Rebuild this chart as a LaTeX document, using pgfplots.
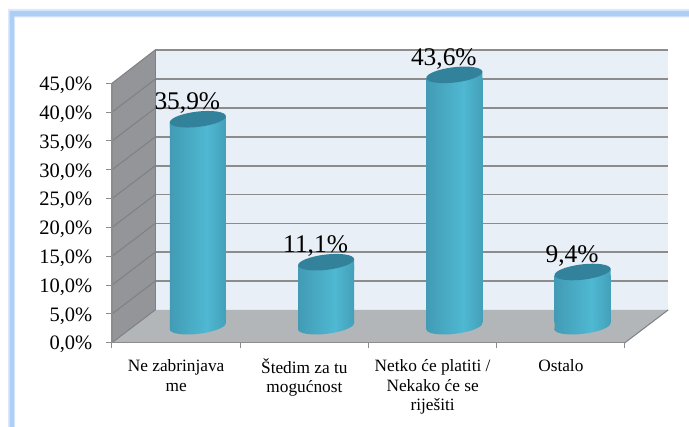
\documentclass[border=0pt]{standalone}
\usepackage{pgfplots}
\usepackage{pgfplotstable}
\pgfplotsset{compat=1.18}
\usepackage{fontspec}
\setmainfont{Liberation Serif}
\definecolor{frameblue}{HTML}{AECFF5}
\definecolor{frameblue2}{HTML}{DCE9FA}
\definecolor{backwall}{HTML}{E8EFF6}
\definecolor{floorc}{HTML}{B2B6B9}
\definecolor{sidewall}{HTML}{939598}
\definecolor{gridc}{HTML}{8C8C8C}
\definecolor{sidegrid}{HTML}{7E8083}
\definecolor{cyltopc}{HTML}{33829B}
\definecolor{cA}{HTML}{2C6F85}
\definecolor{cB}{HTML}{3D90A9}
\definecolor{cC}{HTML}{4FB8D2}
\definecolor{cD}{HTML}{2A6478}
\pgfdeclarehorizontalshading{cyl}{100bp}{color(0bp)=(cA); color(12bp)=(cB); color(58bp)=(cC); color(86bp)=(cB); color(100bp)=(cD)}
\pgfdeclareplotmark{cyltop}{%
  \pgfpathmoveto{\pgfqpoint{-28pt}{-3.3pt}}%
  \pgfpathlineto{\pgfqpoint{28pt}{3.3pt}}%
  \pgfpathlineto{\pgfqpoint{28pt}{-8pt}}%
  \pgfpathlineto{\pgfqpoint{-28pt}{-8pt}}%
  \pgfpathclose
  \pgfshadepath{cyl}{0}\pgfusepath{discard}%
  \pgfsetfillcolor{cyltopc}%
  \pgfpathellipse{\pgfpointorigin}{\pgfqpoint{28pt}{3.3pt}}{\pgfqpoint{-0.9pt}{7.6pt}}%
  \pgfusepath{fill}}
\pgfdeclareplotmark{cylbase}{%
  \pgfpathmoveto{\pgfqpoint{-28pt}{-3.3pt}}%
  \pgfpathlineto{\pgfqpoint{28pt}{3.3pt}}%
  \pgfpathlineto{\pgfqpoint{28pt}{5pt}}%
  \pgfpathlineto{\pgfqpoint{-28pt}{5pt}}%
  \pgfpathclose
  \pgfshadepath{cyl}{0}\pgfusepath{discard}%
  \pgfpathellipse{\pgfpointorigin}{\pgfqpoint{28pt}{3.3pt}}{\pgfqpoint{-0.9pt}{7.6pt}}%
  \pgfshadepath{cyl}{0}\pgfusepath{discard}}
\pgfplotstableread{
x v
0.5 35.9
1.5 11.1
2.5 43.6
3.5 9.4
}\cyldata
\pgfplotsset{common/.style={
  width=513pt,height=259.4pt,scale only axis,anchor=south west,
  xmin=0,xmax=4,ymin=0,ymax=45,clip=false},
  body/.style={ybar,bar width=56pt,draw=none,shading=cyl,shade}}
\newcommand{\st}{\rule{0pt}{13pt}}
\begin{document}
\begin{tikzpicture}[x=1pt,y=1pt]
\useasboundingbox (0,0) rectangle (689,427);
\fill[white] (0,0) rectangle (689,427);
\fill[frameblue2] (8,0) -- (8,418) -- (689,418) -- (689,409.5) -- (15,409.5) -- (15,0) -- cycle;
\fill[frameblue] (9.5,0) -- (9.5,416) -- (689,416) -- (689,410.5) -- (14,410.5) -- (14,0) -- cycle;
% walls, floor and value axis
\begin{axis}[common,at={(112pt,84.3pt)},
  axis on top,
  axis x line*=bottom,axis y line*=left,
  axis line style={gridc,line width=1.1pt,-},
  tick style={gridc,line width=1pt},
  tick align=outside,
  major tick length=5.5pt,
  minor tick length=5.5pt,
  ytick={0,5,...,45},
  /pgf/number format/assume math mode=true,
  /pgf/number format/.cd,fixed,fixed zerofill,precision=1,use comma,/tikz/.cd,
  yticklabel={\pgfmathprintnumber{\tick}\%},
  yticklabel style={font=\fontsize{20.5}{24}\selectfont,inner sep=0pt,xshift=-14pt,yshift=-2pt},
  xtick={0.5,1.5,2.5,3.5},
  major x tick style={draw=none},
  minor xtick={0,1,2,3,4},
  minor x tick style={gridc,line width=1pt},
  xticklabels={{\st Ne zabrinjava\\me},{\st Štedim za tu\\mogućnost},{\st Netko će platiti /\\Nekako će se\\riješiti},{\st Ostalo}},
  xticklabel style={font=\fontsize{17.3}{19.7}\selectfont,align=center,inner sep=0pt,anchor=north,yshift=-10pt},
  unbounded coords=jump]
\addplot[fill=backwall,draw=none] coordinates {(0.3376,5.7) (4.3376,5.7) (4.3376,50.8) (0.3376,50.8)} --cycle;
\addplot[fill=sidewall,draw=none] coordinates {(0,0) (0.3376,5.7) (0.3376,50.8) (0,45)} --cycle;
\addplot[fill=floorc,draw=none] coordinates {(0,0) (4,0) (4.3376,5.7) (0.3376,5.7)} --cycle;
\addplot[gridc,line width=1.6pt] coordinates {
 (0.3376,10.7) (4.3376,10.7) (nan,nan)
 (0.3376,15.7) (4.3376,15.7) (nan,nan)
 (0.3376,20.7) (4.3376,20.7) (nan,nan)
 (0.3376,25.7) (4.3376,25.7) (nan,nan)
 (0.3376,30.7) (4.3376,30.7) (nan,nan)
 (0.3376,35.7) (4.3376,35.7) (nan,nan)
 (0.3376,40.7) (4.3376,40.7) (nan,nan)
 (0.3376,45.7) (4.3376,45.7) (nan,nan)
 (0.3376,50.8) (4.3376,50.8)};
\addplot[sidegrid,line width=1pt] coordinates {
 (0,5) (0.3376,10.7) (nan,nan)
 (0,10) (0.3376,15.7) (nan,nan)
 (0,15) (0.3376,20.7) (nan,nan)
 (0,20) (0.3376,25.7) (nan,nan)
 (0,25) (0.3376,30.7) (nan,nan)
 (0,30) (0.3376,35.7) (nan,nan)
 (0,35) (0.3376,40.7) (nan,nan)
 (0,40) (0.3376,45.7) (nan,nan)
 (0,45) (0.3376,50.8)};
\addplot[sidegrid,line width=1pt] coordinates {(0.3376,5.7) (0.3376,50.8)};
\addplot[sidegrid,line width=1pt] coordinates {(0,0) (0.3376,5.7)};
\addplot[sidegrid,line width=1pt] coordinates {(4,0) (4.3376,5.7)};
\end{axis}
% cylinder bodies: drawn from 0, the part below the base ellipse cut off by the axis limit
\begin{axis}[common,at={(133.7pt,104.1pt)},height=252.8pt,ymin=1.146,hide axis,clip=true]
\addplot[body] coordinates {(0.5,35.9)};
\addplot[body] coordinates {(1.5,11.1)};
\addplot[body] coordinates {(2.5,43.6)};
\addplot[body] coordinates {(3.5,9.4)};
\end{axis}
% cylinder ends and value labels
\begin{axis}[common,at={(133.7pt,100.8pt)},hide axis]
\addplot[only marks,mark=cylbase] coordinates {(0.5,0) (1.5,0) (2.5,0) (3.5,0)};
\addplot[only marks,mark=cyltop,
  nodes near coords={\pgfmathprintnumber[assume math mode=true,fixed,fixed zerofill,precision=1,use comma]{\pgfplotspointmeta}\%},
  point meta=y,
  every node near coord/.style={font=\fontsize{25.4}{28}\selectfont,text=black,anchor=base,inner sep=0pt,xshift=-10.5pt,yshift=9.5pt}]
  table[x=x,y=v] {\cyldata};
\end{axis}
\end{tikzpicture}
\end{document}
